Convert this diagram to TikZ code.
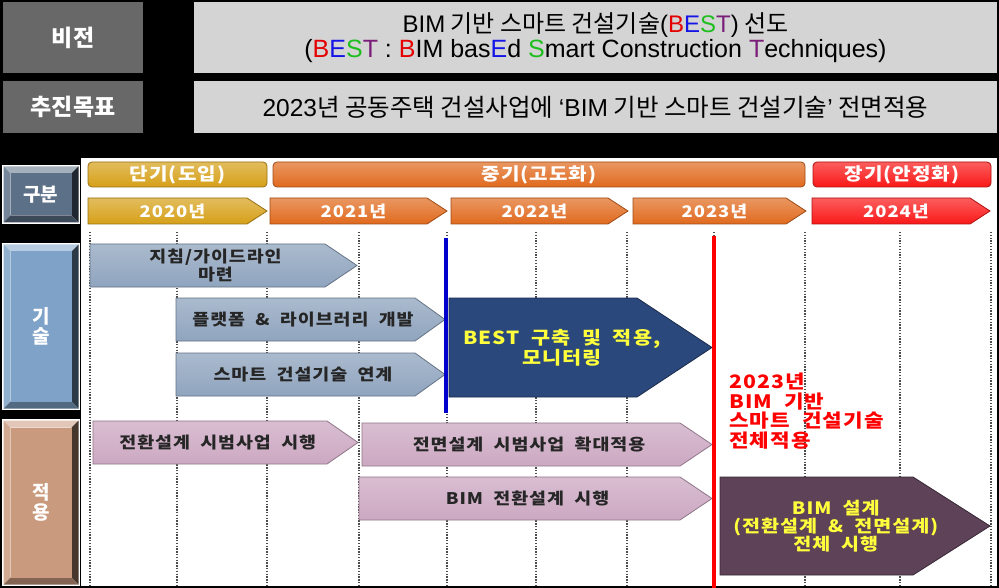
\documentclass[tikz,border=0pt]{standalone}
\usepackage{fontspec}
\setmainfont{Noto Sans CJK KR}
\newfontfamily\lat{Liberation Sans}
\newfontfamily\krw{Noto Sans CJK KR}[FakeStretch=1.15,LetterSpace=6,WordSpace=2]
\usetikzlibrary{calc}

\definecolor{boxgray}{RGB}{104,104,104}
\definecolor{txtgray}{RGB}{212,212,212}
\definecolor{dangold}{RGB}{214,160,24}
\definecolor{jungorg}{RGB}{224,106,30}
\definecolor{jangred}{RGB}{250,24,24}
\definecolor{gubun}{RGB}{92,112,136}
\definecolor{gisul}{RGB}{126,162,200}
\definecolor{jeokyong}{RGB}{202,154,126}
\definecolor{techarr}{RGB}{143,164,190}
\definecolor{apparr}{RGB}{204,168,194}
\definecolor{bestnavy}{RGB}{42,72,124}
\definecolor{bimpurple}{RGB}{94,66,88}
\definecolor{hlyellow}{RGB}{255,255,60}
\definecolor{bestr}{RGB}{228,0,0}
\definecolor{beste}{RGB}{20,20,230}
\definecolor{bests}{RGB}{30,190,30}
\definecolor{bestt}{RGB}{122,30,122}

% arrow bar: name, fill style, text style, x1, y1, x2, y2, tip depth, text
\newcommand{\steparrow}[9]{%
  \path[#2] (#4,#5) -- ({#6-#8},#5) -- (#6,{(#5+#7)/2}) -- ({#6-#8},#7) -- (#4,#7) -- cycle;
  \node[#3] (#1) at ({(#4+#6)/2-#8/4},{(#5+#7)/2}) {#9};}

% bevelled side label: name, colour, x1, y1, x2, y2, text
\newcommand{\sidebox}[7]{%
  \fill[white] (#3,#4) rectangle (#5,#6);
  \fill[#2!55!white] ({#3+1.5},{#4+1.5}) -- ({#5-1.5},{#4+1.5}) -- ({#5-8.5},{#4+8.5}) -- ({#3+8.5},{#4+8.5}) -- cycle;
  \fill[#2!85!white] ({#3+1.5},{#4+1.5}) -- ({#3+8.5},{#4+8.5}) -- ({#3+8.5},{#6-8.5}) -- ({#3+1.5},{#6-1.5}) -- cycle;
  \fill[#2!35!black] ({#5-1.5},{#4+1.5}) -- ({#5-1.5},{#6-1.5}) -- ({#5-8.5},{#6-8.5}) -- ({#5-8.5},{#4+8.5}) -- cycle;
  \fill[#2!65!black] ({#3+1.5},{#6-1.5}) -- ({#5-1.5},{#6-1.5}) -- ({#5-8.5},{#6-8.5}) -- ({#3+8.5},{#6-8.5}) -- cycle;
  \fill[#2] ({#3+8.5},{#4+8.5}) rectangle ({#5-8.5},{#6-8.5});
  \node[sidetext] (#1) at ({(#3+#5)/2},{(#4+#6)/2}) {#7};}

\begin{document}
\begin{tikzpicture}[x=1pt,y=-1pt,
    toplbl/.style={fill=boxgray,text=white,inner sep=0pt,font=\bfseries\fontsize{23}{26}\selectfont},
    toptxt/.style={fill=txtgray,inner sep=0pt,align=center,font=\fontsize{24}{25}\selectfont},
    sidetext/.style={text=white,align=center,inner sep=0pt,font=\bfseries\fontsize{19}{20}\selectfont},
    hdrtext/.style={text=white,inner sep=0pt,font=\krw\bfseries\fontsize{17.5}{19}\selectfont},
    yeartext/.style={text=white,inner sep=0pt,font=\krw\bfseries\fontsize{16}{19}\selectfont},
    hdrbar/.style={rounded corners=4pt,line width=0.8pt,hdrtext},
    goldfill/.style={top color=dangold!70!white,bottom color=dangold,draw=dangold!70!black,line width=0.8pt},
    orgfill/.style={top color=jungorg!70!white,bottom color=jungorg,draw=jungorg!70!black,line width=0.8pt},
    redfill/.style={top color=jangred!70!white,bottom color=jangred,draw=jangred!70!black,line width=0.8pt},
    techfill/.style={top color=techarr!75!white,bottom color=techarr,draw=techarr!70!black,line width=0.8pt},
    appfill/.style={top color=apparr!75!white,bottom color=apparr,draw=apparr!70!black,line width=0.8pt},
    navyfill/.style={fill=bestnavy,draw=bestnavy!60!black,line width=0.8pt},
    purplefill/.style={fill=bimpurple,draw=bimpurple!60!black,line width=0.8pt},
    bartext/.style={text=black!85,align=center,inner sep=0pt,font=\krw\bfseries\fontsize{16}{16}\selectfont},
    besttext/.style={text=hlyellow,align=center,inner sep=0pt,font=\krw\bfseries\fontsize{18}{19}\selectfont},
    bimtext/.style={text=hlyellow,align=center,inner sep=0pt,font=\krw\bfseries\fontsize{17}{18}\selectfont},
    redtext/.style={text=red,align=left,inner sep=0pt,font=\krw\bfseries\fontsize{18.5}{19.5}\selectfont},
    grid/.style={gray!60!black,line width=1.3pt,dash pattern=on 1.3pt off 1.5pt}]

    \fill[black] (0,0) rectangle (999,588);
    \useasboundingbox (0,0) rectangle (999,588);

    % vision and goal
    \node[toplbl,minimum width=140pt,minimum height=71pt] (vision) at (73,37.5) {비전};
    \node[toptxt,minimum width=803pt,minimum height=71pt] (visiontxt) at (595.5,37.5)
      {{\lat BIM} 기반 스마트 건설기술{\lat (\textcolor{bestr}{B}\textcolor{beste}{E}\textcolor{bests}{S}\textcolor{bestt}{T})} 선도\\
       {\lat\fontsize{25}{25}\selectfont (\textcolor{bestr}{B}\textcolor{beste}{E}\textcolor{bests}{S}\textcolor{bestt}{T} : \textcolor{bestr}{B}IM bas\textcolor{beste}{E}d \textcolor{bests}{S}mart Construction \textcolor{bestt}{T}echniques)}};
    \node[toplbl,minimum width=140pt,minimum height=52pt] (goal) at (73,107) {추진목표};
    \node[toptxt,minimum width=803pt,minimum height=52pt,font=\fontsize{24.5}{26}\selectfont] (goaltxt) at (595.5,107)
      {{\lat 2023}년 공동주택 건설사업에 {\lat ‘BIM} 기반 스마트 건설기술{\lat ’} 전면적용};

    % roadmap panel
    \fill[white] (81,158) rectangle (997,586);
    \foreach \x in {90,177,267,359,447,536,627,714,805,900,991}
    \draw[grid] (\x,232) -- (\x,585);

    \sidebox{gubunlbl}{gubun}{2}{165}{80}{224}{구분}
    \sidebox{techlbl}{gisul}{2}{243}{80}{410}{기\\술}
    \sidebox{applylbl}{jeokyong}{2}{419}{80}{586}{적\\용}

    \node[hdrbar,goldfill,minimum width=179pt,minimum height=25pt] (short) at (177.5,174.5) {단기(도입)};
    \node[hdrbar,orgfill,minimum width=532pt,minimum height=25pt] (mid) at (539,174.5) {중기(고도화)};
    \node[hdrbar,redfill,minimum width=178pt,minimum height=25pt] (long) at (902,174.5) {장기(안정화)};

    \steparrow{y2020}{goldfill}{yeartext}{88}{198}{267}{224}{20}{2020년}
    \steparrow{y2021}{orgfill}{yeartext}{270}{198}{447}{224}{20}{2021년}
    \steparrow{y2022}{orgfill}{yeartext}{451}{198}{628}{224}{20}{2022년}
    \steparrow{y2023}{orgfill}{yeartext}{633}{198}{806}{224}{20}{2023년}
    \steparrow{y2024}{redfill}{yeartext}{812}{198}{990}{224}{20}{2024년}

    % technology
    \steparrow{guide}{techfill}{bartext}{90}{244}{357}{287}{32}{지침/가이드라인\\마련}
    \steparrow{platform}{techfill}{bartext}{176}{298}{445}{341}{30}{플랫폼 \& 라이브러리 개발}
    \steparrow{smartlink}{techfill}{bartext}{176}{353}{445}{396}{30}{스마트 건설기술 연계}
    \steparrow{best}{navyfill}{besttext}{449}{298}{712}{397}{75}{BEST 구축 및 적용,\\모니터링}

    % application
    \steparrow{pilot}{appfill}{bartext}{93}{421}{358}{464}{31}{전환설계 시범사업 시행}
    \steparrow{fullpilot}{appfill}{bartext}{362}{423}{712}{466}{32}{전면설계 시범사업 확대적용}
    \steparrow{convert}{appfill}{bartext}{359}{477}{712}{520}{32}{BIM 전환설계 시행}
    \steparrow{bimall}{purplefill}{bimtext}{720}{477}{990}{575}{77}{BIM 설계\\(전환설계 \& 전면설계)\\전체 시행}

    \draw[blue!80!black,line width=4pt] (446,238) -- (446,413);
    \draw[red,line width=4pt] (714,236) -- (714,588);
    \node[redtext,anchor=west] (full2023) at (729,411) {2023년\\BIM 기반\\스마트 건설기술\\전체적용};
\end{tikzpicture}
\end{document}
